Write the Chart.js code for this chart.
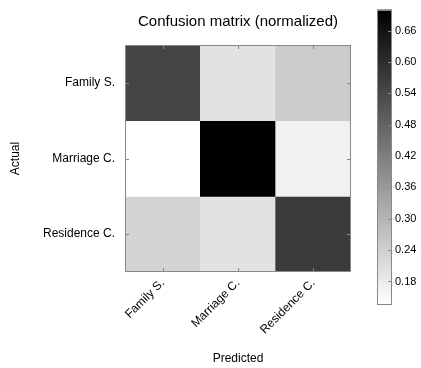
<!DOCTYPE html>
<html>
<head>
<meta charset="utf-8">
<script src="https://cdn.jsdelivr.net/npm/chart.js@4.4.1/dist/chart.umd.min.js"></script>
<style>
  html, body { margin: 0; padding: 0; background: #fff; }
  #wrap { position: relative; width: 421px; height: 368px; }
  #wrap canvas { position: absolute; top: 0; }
</style>
</head>
<body>
<div id="wrap">
  <canvas id="matrix" width="421" height="368" style="left:0"></canvas>
  <canvas id="cbar" width="61" height="368" style="left:360px"></canvas>
</div>
<script>
// classes, rows = actual, columns = predicted
const classes = ['Family S.', 'Marriage C.', 'Residence C.'];
const familyRow = [0.55, 0.20, 0.25];
const marriageRow = [0.135, 0.70, 0.165];
const residenceRow = [0.23, 0.20, 0.57];
const rows = [familyRow, marriageRow, residenceRow];
const colorbarTicks = [0.18, 0.24, 0.30, 0.36, 0.42, 0.48, 0.54, 0.60, 0.66];

const allVals = rows.flat();
const vmin = Math.min(...allVals);
const vmax = Math.max(...allVals);

// gray_r: white at vmin, black at vmax
function gray(v) {
    const g = Math.round(255 * (1 - (v - vmin) / (vmax - vmin)));
    return `rgb(${g},${g},${g})`;
}

Chart.defaults.font.family = '"Liberation Sans", Arial, sans-serif';
Chart.defaults.color = '#000';

// frame + small inward ticks like the matplotlib axes
const frame = {
    id: 'frame',
    afterDatasetsDraw(chart, args, opts) {
        const {ctx, chartArea: a} = chart;
        ctx.save();
        ctx.strokeStyle = opts.color;
        ctx.lineWidth = 1;
        ctx.beginPath();
        if (opts.xTicks) {
            chart.scales.x.ticks.forEach((t, i) => {
                const px = Math.round(chart.scales.x.getPixelForTick(i)) + 0.5;
                ctx.moveTo(px, a.bottom); ctx.lineTo(px, a.bottom - 4);
                ctx.moveTo(px, a.top); ctx.lineTo(px, a.top + 4);
            });
        }
        chart.scales.y.ticks.forEach(t => {
            const py = Math.round(chart.scales.y.getPixelForValue(t.value)) + 0.5;
            if (opts.xTicks) { ctx.moveTo(a.left, py); ctx.lineTo(a.left + 4, py); }
            ctx.moveTo(a.right, py); ctx.lineTo(a.right - 4, py);
        });
        ctx.stroke();
        ctx.strokeRect(Math.round(a.left) + 0.5, Math.round(a.top) + 0.5,
            Math.round(a.right - a.left) - 1, Math.round(a.bottom - a.top) - 1);
        ctx.restore();
    }
};

new Chart(document.getElementById('matrix'), {
    type: 'bar',
    data: {
        labels: classes,
        datasets: rows.map((row, r) => ({
            label: classes[r],
            data: row.map((v, c) => ({x: classes[c], y: [r - 0.5, r + 0.5]})),
            backgroundColor: row.map(gray),
            borderWidth: 0,
            grouped: false,
            barPercentage: 1,
            categoryPercentage: 1,
        })),
    },
    options: {
        responsive: false,
        animation: false,
        layout: { padding: {left: 0, right: 70, top: 0, bottom: 0} },
        plugins: {
            legend: { display: false },
            tooltip: { enabled: false },
            title: {
                display: true,
                text: 'Confusion matrix (normalized)',
                fullSize: false,
                font: {size: 15, weight: 'normal'},
                padding: {top: 13, bottom: 14},
            },
            frame: { color: '#888', xTicks: true },
        },
        scales: {
            x: {
                grid: { display: false, drawTicks: false },
                border: { display: false },
                ticks: { minRotation: 45, maxRotation: 45, padding: 4, font: {size: 12} },
                title: { display: true, text: 'Predicted', font: {size: 12}, padding: {top: 4, bottom: 2} },
                afterFit(scale) { scale.height = 96; },
            },
            y: {
                type: 'linear',
                reverse: true,
                min: -0.5,
                max: 2.5,
                grid: { display: false, drawTicks: false },
                border: { display: false },
                afterBuildTicks(scale) { scale.ticks = classes.map((c, i) => ({value: i})); },
                ticks: { padding: 10, font: {size: 12}, callback: v => classes[v] },
                title: { display: true, text: 'Actual', font: {size: 12}, padding: {top: 8, bottom: 4} },
                afterFit(scale) { scale.width = 125; },
            },
        },
    },
    plugins: [frame],
});

// colorbar
new Chart(document.getElementById('cbar'), {
    type: 'bar',
    data: {
        labels: [''],
        datasets: [{
            data: [[vmin, vmax]],
            backgroundColor(ctx) {
                const a = ctx.chart.chartArea;
                if (!a) return '#888';
                const g = ctx.chart.ctx.createLinearGradient(0, a.bottom, 0, a.top);
                g.addColorStop(0, gray(vmin));
                g.addColorStop(1, gray(vmax));
                return g;
            },
            borderWidth: 0,
            barPercentage: 1,
            categoryPercentage: 1,
        }],
    },
    options: {
        responsive: false,
        animation: false,
        layout: { padding: {left: 17, right: 0, top: 5, bottom: 63} },
        plugins: {
            legend: { display: false },
            tooltip: { enabled: false },
            frame: { color: '#888', xTicks: false },
        },
        scales: {
            x: { display: false },
            y: {
                position: 'right',
                min: vmin,
                max: vmax,
                grid: { display: false, drawTicks: false },
                border: { display: false },
                afterBuildTicks(scale) { scale.ticks = colorbarTicks.map(v => ({value: v})); },
                ticks: { padding: 3, font: {size: 11}, callback: v => v.toFixed(2) },
                afterFit(scale) { scale.width = 29; },
            },
        },
    },
    plugins: [frame],
});
</script>
</body>
</html>
